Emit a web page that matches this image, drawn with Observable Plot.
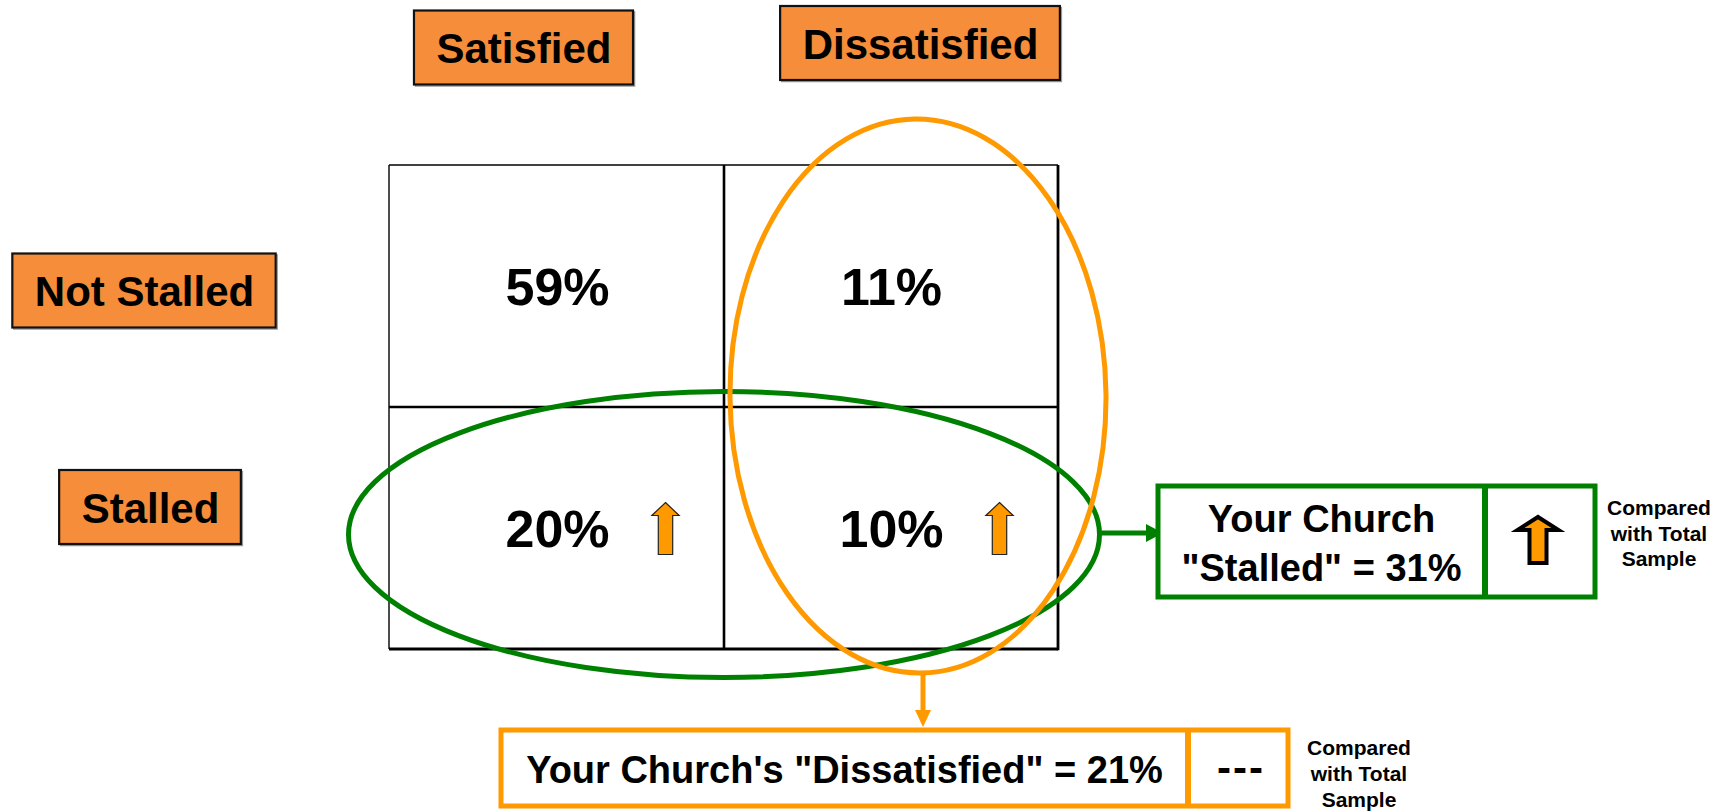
<!DOCTYPE html>
<html>
<head>
<meta charset="utf-8">
<script src="https://cdn.jsdelivr.net/npm/d3@7"></script>
<script src="https://cdn.jsdelivr.net/npm/@observablehq/plot@0.6"></script>
<style>
  html, body { margin: 0; padding: 0; background: #fff; }
  #chart { width: 1724px; height: 811px; overflow: hidden; }
  svg { display: block; }
</style>
</head>
<body>
<div id="chart"></div>
<script>
// ---------- data ----------
const cols = ["Satisfied", "Dissatisfied"];
const rows = ["Not Stalled", "Stalled"];
const pctNotStalled = [59, 11];
const pctStalled = [20, 10];
const upNotStalled = [false, false];
const upStalled = [true, true];
const stalledTotal = 31;
const dissatisfiedTotal = 21;
const stalledVsTotal = "up";
const dissatisfiedVsTotal = "---";
const compareNote = ["Compared", "with Total", "Sample"];

// ---------- styling / layout ----------
const FONT = "'Liberation Sans', Arial, Helvetica, sans-serif";
const HEAD_FILL = "#F58D3A";
const ORANGE = "#FF9900";
const GREEN = "#008000";

// header label offsets (box centers) relative to the grid frame
const HEAD = {
  colDx: [-33.5, 29],   // from column band center
  colDy: [-117.5, -122],// from frame top
  rowDx: [-245, -239],  // from frame left
  rowDy: [4.5, -21]     // from row band center
};

const cells = rows.flatMap((r, i) => cols.map((c, j) => ({
  row: r, col: c,
  pct: (i === 0 ? pctNotStalled : pctStalled)[j],
  up: (i === 0 ? upNotStalled : upStalled)[j]
})));

// custom arrow symbols (d3 symbol type interface)
function arrowSymbol(headBase, headHalf, shaftHalf) {
  return {
    draw(ctx, size) {
      const r = Math.sqrt(size / Math.PI);
      ctx.moveTo(0, -r);
      ctx.lineTo(headHalf * r, headBase * r);
      ctx.lineTo(shaftHalf * r, headBase * r);
      ctx.lineTo(shaftHalf * r, r);
      ctx.lineTo(-shaftHalf * r, r);
      ctx.lineTo(-shaftHalf * r, headBase * r);
      ctx.lineTo(-headHalf * r, headBase * r);
      ctx.closePath();
    }
  };
}
const smallArrow = arrowSymbol(-0.5, 0.525, 0.277);
const bigArrow = arrowSymbol(-0.43, 0.89, 0.37);

function geom(scales, dims) {
  const x = scales.x, y = scales.y;
  const left = dims.marginLeft, right = dims.width - dims.marginRight;
  const top = dims.marginTop, bottom = dims.height - dims.marginBottom;
  const bwx = x && x.bandwidth ? x.bandwidth() : (right - left) / cols.length;
  const bwy = y && y.bandwidth ? y.bandwidth() : (bottom - top) / rows.length;
  const colX = c => (x ? x(c) : left + cols.indexOf(c) * bwx);
  const rowY = r => (y ? y(r) : top + rows.indexOf(r) * bwy);
  return {left, right, top, bottom, bwx, bwy, colX, rowY};
}

const measureCtx = document.createElement("canvas").getContext("2d");
function textWidth(t, size) {
  measureCtx.font = `bold ${size}px ${FONT}`;
  return measureCtx.measureText(t).width;
}

// grid lines
function gridLines(index, scales, values, dims) {
  const f = geom(scales, dims);
  const g = d3.create("svg:g").attr("stroke", "black").attr("fill", "none");
  const mx = f.colX(cols[1]), my = f.rowY(rows[1]);
  const L = [
    [f.left, f.top, f.right, f.top, 1.6],
    [f.left, f.top, f.left, f.bottom, 1.4],
    [mx, f.top, mx, f.bottom, 2.6],
    [f.left, my, f.right, my, 2.6],
    [f.right, f.top, f.right, f.bottom + 1.3, 2.8],
    [f.left, f.bottom, f.right, f.bottom, 2.8]
  ];
  for (const [x1, y1, x2, y2, w] of L) {
    g.append("line").attr("x1", x1).attr("y1", y1).attr("x2", x2).attr("y2", y2).attr("stroke-width", w);
  }
  return g.node();
}

// header boxes
function headerBoxes(index, scales, values, dims) {
  const f = geom(scales, dims);
  const g = d3.create("svg:g");
  const boxes = [];
  cols.forEach((c, i) => boxes.push({t: c, cx: f.colX(c) + f.bwx / 2 + HEAD.colDx[i], cy: f.top + HEAD.colDy[i]}));
  rows.forEach((r, i) => boxes.push({t: r, cx: f.left + HEAD.rowDx[i], cy: f.rowY(r) + f.bwy / 2 + HEAD.rowDy[i]}));
  for (const b of boxes) {
    const w = textWidth(b.t, 42) + 44, h = 74;
    g.append("rect").attr("x", b.cx - w / 2 + 1.5).attr("y", b.cy - h / 2 + 1.5).attr("width", w).attr("height", h)
      .attr("fill", "none").attr("stroke", "#999").attr("stroke-width", 1.5);
    g.append("rect").attr("x", b.cx - w / 2).attr("y", b.cy - h / 2).attr("width", w).attr("height", h)
      .attr("fill", HEAD_FILL).attr("stroke", "#111").attr("stroke-width", 2.2);
  }
  return g.node();
}

// ellipses, arrows and summary boxes
function annotations(index, scales, values, dims) {
  const f = geom(scales, dims);
  const g = d3.create("svg:g");
  // green ellipse around the "Stalled" row
  const gcx = f.colX(cols[1]), gcy = f.rowY(rows[1]) + f.bwy / 2 + 6.5, grx = 375.5, gry = 143;
  g.append("ellipse").attr("cx", gcx).attr("cy", gcy).attr("rx", grx).attr("ry", gry)
    .attr("fill", "none").attr("stroke", GREEN).attr("stroke-width", 5);
  // orange ellipse around the "Dissatisfied" column
  const ocx = f.colX(cols[1]) + f.bwx / 2 + 27, ocy = f.top + 231, orx = 188, ory = 277;
  g.append("ellipse").attr("cx", ocx).attr("cy", ocy).attr("rx", orx).attr("ry", ory)
    .attr("transform", `rotate(-0.6 ${ocx} ${ocy})`)
    .attr("fill", "none").attr("stroke", ORANGE).attr("stroke-width", 5);

  // green summary box
  const gb = {x0: f.right + 100, y0: f.rowY(rows[1]) + 79};
  gb.x1 = gb.x0 + 437; gb.y1 = gb.y0 + 111; gb.div = gb.x0 + 327;
  const ay = gcy - 1.5;
  g.append("line").attr("x1", gcx + grx).attr("y1", ay).attr("x2", gb.x0 - 10).attr("y2", ay)
    .attr("stroke", GREEN).attr("stroke-width", 5);
  g.append("path").attr("d", `M${gb.x0 + 5},${ay} L${gb.x0 - 12},${ay - 9} L${gb.x0 - 12},${ay + 9} Z`).attr("fill", GREEN);
  g.append("rect").attr("x", gb.x0).attr("y", gb.y0).attr("width", gb.x1 - gb.x0).attr("height", gb.y1 - gb.y0)
    .attr("fill", "white").attr("stroke", GREEN).attr("stroke-width", 5);
  g.append("line").attr("x1", gb.div).attr("x2", gb.div).attr("y1", gb.y0).attr("y2", gb.y1)
    .attr("stroke", GREEN).attr("stroke-width", 6);
  const gt = g.append("text").attr("font-family", FONT).attr("font-weight", "bold").attr("font-size", 38)
    .attr("text-anchor", "middle").attr("fill", "black");
  gt.append("tspan").attr("x", (gb.x0 + gb.div) / 2).attr("y", gb.y0 + 45.6).text("Your Church");
  gt.append("tspan").attr("x", (gb.x0 + gb.div) / 2).attr("y", gb.y0 + 94.6).text(`"Stalled" = ${stalledTotal}%`);
  if (stalledVsTotal === "up") {
    g.append("path").attr("d", d3.symbol(bigArrow, Math.PI * 23 * 23)())
      .attr("transform", `translate(${(gb.div + gb.x1) / 2 - 2},${(gb.y0 + gb.y1) / 2 - 1.5})`)
      .attr("fill", ORANGE).attr("stroke", "black").attr("stroke-width", 4).attr("stroke-linejoin", "miter");
  }
  const gn = g.append("text").attr("font-family", FONT).attr("font-weight", "bold").attr("font-size", 21)
    .attr("text-anchor", "middle").attr("fill", "black");
  compareNote.forEach((t, i) => gn.append("tspan").attr("x", gb.x1 + 64).attr("y", gb.y0 + 29 + i * 25.5).text(t));

  // orange summary box
  const ob = {x0: f.left + 112, y0: f.bottom + 81};
  ob.x1 = ob.x0 + 787; ob.y1 = ob.y0 + 76; ob.div = ob.x0 + 687;
  const ax = ocx + 5;
  g.append("line").attr("x1", ax).attr("x2", ax).attr("y1", ocy + ory - 1).attr("y2", ob.y0 - 14)
    .attr("stroke", ORANGE).attr("stroke-width", 5);
  g.append("path").attr("d", `M${ax},${ob.y0 - 3} L${ax - 8},${ob.y0 - 20} L${ax + 8},${ob.y0 - 20} Z`).attr("fill", ORANGE);
  g.append("rect").attr("x", ob.x0).attr("y", ob.y0).attr("width", ob.x1 - ob.x0).attr("height", ob.y1 - ob.y0)
    .attr("fill", "white").attr("stroke", ORANGE).attr("stroke-width", 5);
  g.append("line").attr("x1", ob.div).attr("x2", ob.div).attr("y1", ob.y0).attr("y2", ob.y1)
    .attr("stroke", ORANGE).attr("stroke-width", 6);
  g.append("text").attr("font-family", FONT).attr("font-weight", "bold").attr("font-size", 38)
    .attr("text-anchor", "middle").attr("x", (ob.x0 + ob.div) / 2).attr("y", ob.y0 + 52.6)
    .text(`Your Church's "Dissatisfied" = ${dissatisfiedTotal}%`);
  g.append("text").attr("font-family", FONT).attr("font-weight", "bold").attr("font-size", 42)
    .attr("text-anchor", "middle").attr("x", (ob.div + ob.x1) / 2 + 3).attr("y", ob.y0 + 52)
    .attr("letter-spacing", 2).text(dissatisfiedVsTotal);
  const on = g.append("text").attr("font-family", FONT).attr("font-weight", "bold").attr("font-size", 21)
    .attr("text-anchor", "middle").attr("fill", "black");
  compareNote.forEach((t, i) => on.append("tspan").attr("x", ob.x1 + 71).attr("y", ob.y0 + 25 + i * 26).text(t));
  return g.node();
}

const headerText = { fontSize: 42, fontWeight: "bold", fill: "black", textAnchor: "middle", lineAnchor: "middle" };

const plot = Plot.plot({
  width: 1724,
  height: 811,
  marginLeft: 389,
  marginRight: 666,
  marginTop: 165,
  marginBottom: 162,
  x: { type: "band", domain: cols, padding: 0, axis: null },
  y: { type: "band", domain: rows, padding: 0, axis: null },
  style: { fontFamily: FONT, background: "white", overflow: "visible" },
  marks: [
    Plot.cell(cells, { x: "col", y: "row", fill: "white", inset: 0 }),
    gridLines,
    Plot.text(cells, { x: "col", y: "row", text: d => `${d.pct}%`, fontSize: 52, fontWeight: "bold", fill: "black", dy: 2 }),
    Plot.dot(cells.filter(d => d.up), { x: "col", y: "row", symbol: smallArrow, r: 26, fill: ORANGE, stroke: "#222", strokeWidth: 1.2, dx: 108 }),
    annotations,
    headerBoxes,
    ...cols.map((c, i) => Plot.text([c], { x: d => d, frameAnchor: "top", dx: HEAD.colDx[i], dy: HEAD.colDy[i] + 2, ...headerText })),
    ...rows.map((r, i) => Plot.text([r], { y: d => d, frameAnchor: "left", dx: HEAD.rowDx[i], dy: HEAD.rowDy[i] + 2, ...headerText }))
  ]
});
document.getElementById("chart").appendChild(plot);
</script>
</body>
</html>
